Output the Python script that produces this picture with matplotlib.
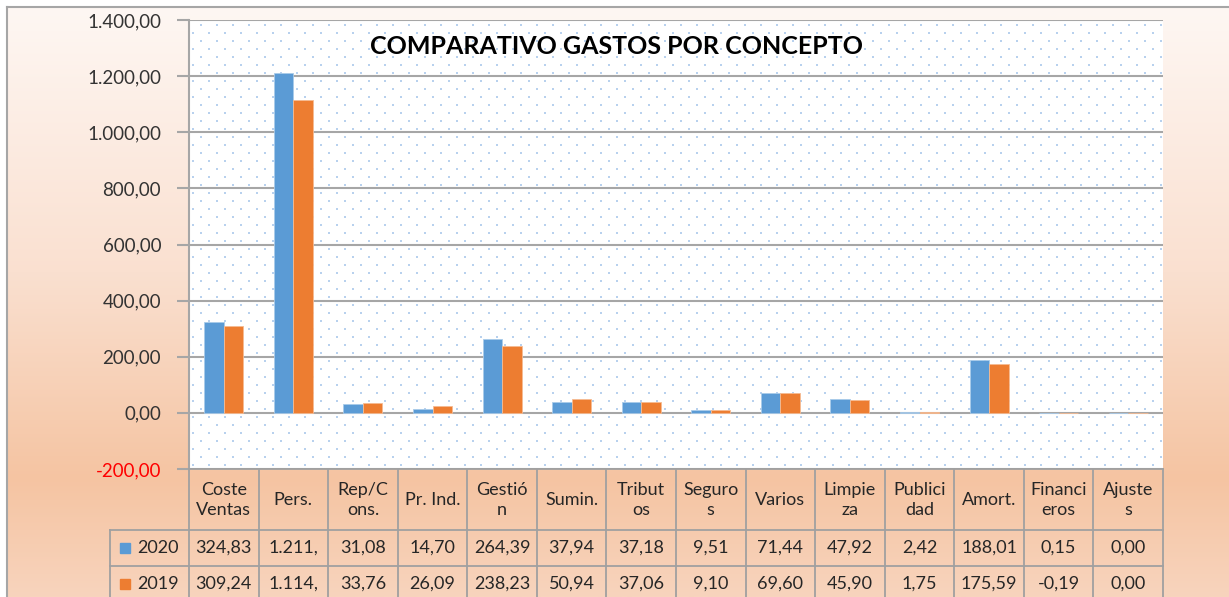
import numpy as np
import matplotlib
matplotlib.use("Agg")
import matplotlib.pyplot as plt
from matplotlib.colors import LinearSegmentedColormap

# datos
conceptos = ["Coste\nVentas", "Pers.", "Rep/C\nons.", "Pr. Ind.", "Gestió\nn", "Sumin.",
             "Tribut\nos", "Seguro\ns", "Varios", "Limpie\nza", "Publici\ndad", "Amort.",
             "Financi\neros", "Ajuste\ns"]
gastos_2020 = [324.83, 1211.30, 31.08, 14.70, 264.39, 37.94, 37.18, 9.51, 71.44, 47.92, 2.42, 188.01, 0.15, 0.00]
gastos_2019 = [309.24, 1114.20, 33.76, 26.09, 238.23, 50.94, 37.06, 9.10, 69.60, 45.90, 1.75, 175.59, -0.19, 0.00]
series = ["2020", "2019"]
colores = ["#5b9bd5", "#ed7d31"]
yticks = [-200, 0, 200, 400, 600, 800, 1000, 1200, 1400]

W, H = 1229, 597
plt.rcParams["font.family"] = ["Lato", "DejaVu Sans"]


def px_box(x0, y0, x1, y1):
    # caja en píxeles (origen arriba-izquierda) -> fracción de figura
    return [x0 / W, 1 - y1 / H, (x1 - x0) / W, (y1 - y0) / H]


def fmt_es(v, corto=False):
    s = f"{v:,.2f}".replace(",", "X").replace(".", ",").replace("X", ".")
    return s[:6] if corto else s


fig = plt.figure(figsize=(W / 100, H / 100), dpi=100)

# fondo degradado
bg = fig.add_axes(px_box(7, 7, W, H), zorder=-5)
cmap = LinearSegmentedColormap.from_list(
    "fondo", [(0, "#fef7f3"), (0.45, "#fae0d0"), (0.8, "#f5c4a2"), (1, "#f8d4bd")])
bg.imshow(np.linspace(0, 1, 256).reshape(-1, 1), aspect="auto", cmap=cmap, extent=[0, 1, 0, 1])
bg.set_xticks([]); bg.set_yticks([])
for k in ["right", "bottom"]:
    bg.spines[k].set_visible(False)
for k in ["top", "left"]:
    bg.spines[k].set_color("#a6a6a6")
    bg.spines[k].set_linewidth(1.5)

# área de trazado
ax = fig.add_axes(px_box(189, 20, 1163, 469))
ax.set_facecolor("white")
aw, ah = 974, 449
for r, yy in enumerate(np.arange(4, ah, 8)):
    xs = np.arange(4 + 8 * (r % 2), aw, 16)
    ax.scatter(xs / aw, np.full(len(xs), yy / ah), transform=ax.transAxes, s=4, marker="s",
               color="#b8d1ee", lw=0, zorder=1)

x = np.arange(len(conceptos))
bw = 0.28
ax.bar(x - bw / 2, gastos_2020, bw, color=colores[0], edgecolor="#a9cbe9", lw=0.6, zorder=3)
ax.bar(x + bw / 2, gastos_2019, bw, color=colores[1], edgecolor="#f6bb93", lw=0.6, zorder=3)
for t in yticks:
    ax.axhline(t, color="#a6a6a6", lw=1.5, zorder=2)
ax.set_xlim(-0.5, len(conceptos) - 0.5)
ax.set_ylim(-200, 1400)
ax.set_xticks([])
ax.set_yticks(yticks)
ax.set_yticklabels([fmt_es(t) for t in yticks])
ax.tick_params(axis="y", length=9, width=1.5, color="#a6a6a6", labelsize=13.5,
               labelcolor="#333333", pad=11)
ax.get_yticklabels()[0].set_color("red")
for k in ["top", "right", "bottom"]:
    ax.spines[k].set_visible(False)
ax.spines["left"].set_color("#a6a6a6")
ax.spines["left"].set_linewidth(1.5)

fig.text(617 / W, 1 - 47 / H, "COMPARATIVO GASTOS POR CONCEPTO", ha="center", va="center",
         fontsize=18, fontweight="bold", color="black")

# tabla de datos
ux = aw / len(conceptos)
izq = -0.5 - 79 / ux
der = len(conceptos) - 0.5
tab = fig.add_axes(px_box(110, 469, 1163, 605))
tab.set_xlim(izq, der)
tab.set_ylim(136, 0)
tab.axis("off")
gris = "#a0a0a0"
tab.plot([-0.5, der], [0, 0], color=gris, lw=1.3, clip_on=False)
for yy in [61, 97, 133]:
    tab.plot([izq, der], [yy, yy], color=gris, lw=1.3, clip_on=False)
for i in range(len(conceptos) + 1):
    tab.plot([i - 0.5, i - 0.5], [0, 136], color=gris, lw=1.3, clip_on=False)
tab.plot([izq, izq], [61, 136], color=gris, lw=1.3, clip_on=False)

for i, c in enumerate(conceptos):
    tab.text(i, 31, c, ha="center", va="center", fontsize=13, color="#262626", linespacing=1.25)
    tab.text(i, 79, fmt_es(gastos_2020[i], True), ha="center", va="center", fontsize=13, color="#262626")
    tab.text(i, 115, fmt_es(gastos_2019[i], True), ha="center", va="center", fontsize=13, color="#262626")

for yy, s, col in zip([79, 115], series, colores):
    tab.plot([izq + 15 / ux], [yy], marker="s", ms=7, color=col, clip_on=False)
    tab.text(izq + 27 / ux, yy, s, ha="left", va="center", fontsize=13, color="#262626")

plt.savefig("out.png", dpi=100)
plt.close(fig)
